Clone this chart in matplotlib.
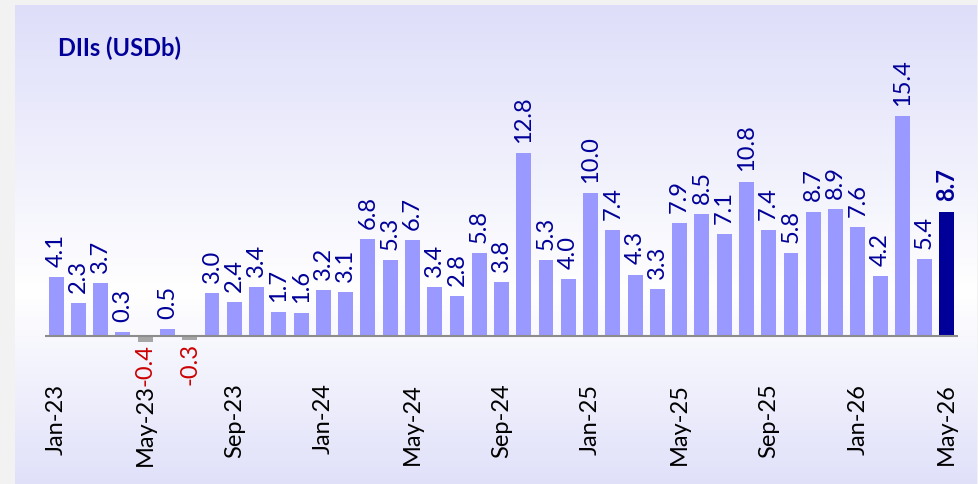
import numpy as np
import matplotlib.pyplot as plt

plt.rcParams['font.family'] = ['Lato', 'DejaVu Sans']

# Monthly DII flows, USD bn, Jan-23 .. May-26
months = ['Jan-23', 'Feb-23', 'Mar-23', 'Apr-23', 'May-23', 'Jun-23', 'Jul-23', 'Aug-23',
          'Sep-23', 'Oct-23', 'Nov-23', 'Dec-23', 'Jan-24', 'Feb-24', 'Mar-24', 'Apr-24',
          'May-24', 'Jun-24', 'Jul-24', 'Aug-24', 'Sep-24', 'Oct-24', 'Nov-24', 'Dec-24',
          'Jan-25', 'Feb-25', 'Mar-25', 'Apr-25', 'May-25', 'Jun-25', 'Jul-25', 'Aug-25',
          'Sep-25', 'Oct-25', 'Nov-25', 'Dec-25', 'Jan-26', 'Feb-26', 'Mar-26', 'Apr-26',
          'May-26']
values = [4.1, 2.3, 3.7, 0.3, -0.4, 0.5, -0.3, 3.0, 2.4, 3.4, 1.7, 1.6, 3.2, 3.1, 6.8, 5.3,
          6.7, 3.4, 2.8, 5.8, 3.8, 12.8, 5.3, 4.0, 10.0, 7.4, 4.3, 3.3, 7.9, 8.5, 7.1, 10.8,
          7.4, 5.8, 8.7, 8.9, 7.6, 4.2, 15.4, 5.4, 8.7]
tick_every = 4

W, H = 979, 485
fig = plt.figure(figsize=(W / 100, H / 100), dpi=100)
fig.patch.set_facecolor('#F2F2F2')

# panel with vertical gradient
bg = fig.add_axes([15 / W, 0, (977 - 15) / W, (H - 6) / H])
bg.set_axis_off()
top = np.array([0.87, 0.87, 0.98])
mid = np.array([1.0, 1.0, 1.0])
bot = np.array([0.88, 0.88, 0.98])
t = np.linspace(0, 1, 300)[:, None]
grad = np.where(t < 0.6, top + (mid - top) * (t / 0.6), mid + (bot - mid) * ((t - 0.6) / 0.4))
bg.imshow(grad[:, None, :].repeat(2, axis=1), aspect='auto', extent=[0, 1, 0, 1])
bg.set_xlim(0, 1)
bg.set_ylim(0, 1)

ax = fig.add_axes([45 / W, (H - 360) / H, (958 - 45) / W, (360 - 20) / H])
ax.patch.set_alpha(0)

x = np.arange(len(values))
colors = []
for i, v in enumerate(values):
    if i == len(values) - 1:
        colors.append('#000099')
    elif v < 0:
        colors.append('#A6A6A6')
    else:
        colors.append('#9999FF')
ax.bar(x, values, width=0.67, color=colors, zorder=2)
ax.axhline(0, color='#8C8C8C', lw=1.5, zorder=3)

for i, v in enumerate(values):
    last = i == len(values) - 1
    if v >= 0:
        ax.annotate(f'{v:.1f}', (i, v), xytext=(0, 8), textcoords='offset points',
                    rotation=90, ha='center', va='bottom', fontsize=17,
                    color='#000099', fontweight='bold' if last else 'normal')
    else:
        ax.annotate(f'{v:.1f}', (i, v), xytext=(0, -1), textcoords='offset points',
                    rotation=90, ha='center', va='top', fontsize=17, color='#CC0000')

ax.set_xlim(-0.5, len(values) - 0.5)
ax.set_ylim(-1.61, 22.17)
ax.set_xticks(x[::tick_every])
ax.set_xticklabels(months[::tick_every], rotation=90, fontsize=17, color='black')
ax.tick_params(axis='x', length=0, pad=17)
ax.set_yticks([])
for s in ax.spines.values():
    s.set_visible(False)

fig.text(58 / W, 1 - 48 / H, 'DIIs (USDb)', fontsize=17, fontweight='bold',
         color='#000099', va='center', ha='left')

fig.savefig('out.png', dpi=100, facecolor=fig.get_facecolor())
